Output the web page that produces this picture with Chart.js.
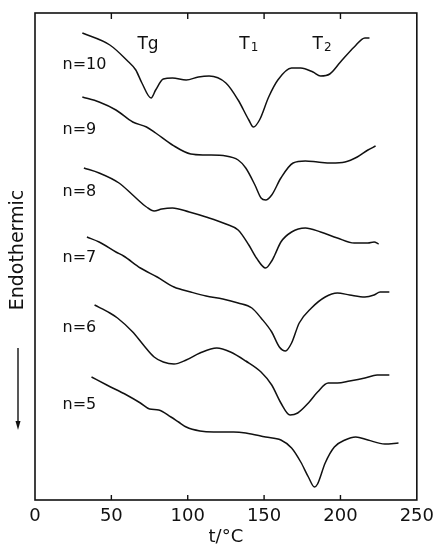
<!DOCTYPE html>
<html>
<head>
<meta charset="utf-8">
<script src="https://cdn.jsdelivr.net/npm/chart.js@4.4.0/dist/chart.umd.min.js"></script>
<style>
  html, body { margin: 0; padding: 0; background: #fff; }
</style>
</head>
<body>
<canvas id="dscChart" width="440" height="546"></canvas>
<script>
// DSC traces: temperature (°C) and heat flow (arbitrary units, offset per sample)
const n10T = [31, 49, 60, 66, 70, 76, 79, 84, 90, 99, 107, 114, 125, 133, 140, 143, 147, 153, 159, 168, 174, 182, 187, 193, 200, 209, 216, 219];
const n10Y = [467, 455, 440, 430, 417, 402, 410, 421, 422, 420, 423, 424, 417, 400, 380, 373, 380, 403, 420, 432, 432, 428, 424, 426, 438, 453, 462, 462];

const n9T = [31, 42, 53, 64, 73, 79, 90, 102, 112, 125, 133, 138, 144, 148, 151, 155, 161, 169, 177, 185, 194, 203, 211, 218, 223];
const n9Y = [403, 398, 390, 378, 373, 367, 355, 346, 345, 344, 340, 332, 315, 302, 300, 305, 322, 337, 339, 338, 337, 338, 343, 350, 354];

const n8T = [32, 42, 55, 64, 73, 78, 83, 90, 101, 112, 125, 133, 140, 145, 151, 155, 157, 161, 168, 177, 187, 198, 209, 218, 222, 225];
const n8Y = [332, 327, 317, 305, 293, 289, 291, 292, 288, 283, 276, 270, 255, 242, 232, 239, 245, 258, 268, 272, 268, 262, 257, 257, 258, 256];

const n7T = [34, 42, 53, 58, 69, 80, 91, 102, 112, 123, 133, 142, 148, 155, 160, 164, 168, 173, 181, 190, 198, 206, 216, 222, 226, 232];
const n7Y = [263, 258, 248, 244, 232, 223, 213, 208, 204, 201, 197, 192, 182, 168, 153, 149, 157, 177, 192, 203, 207, 205, 203, 205, 208, 208];

const n6T = [39, 49, 54, 64, 71, 78, 84, 91, 99, 108, 119, 128, 138, 148, 155, 161, 167, 172, 179, 185, 192, 198, 206, 216, 224, 232];
const n6Y = [195, 187, 182, 168, 155, 143, 138, 136, 140, 147, 152, 148, 139, 128, 115, 97, 85, 87, 97, 108, 117, 117, 119, 122, 125, 125];

const n5T = [37, 47, 60, 69, 75, 81, 89, 94, 99, 108, 117, 130, 138, 151, 161, 168, 174, 179, 183, 185, 190, 196, 203, 210, 218, 229, 238];
const n5Y = [123, 115, 105, 97, 91, 90, 83, 78, 73, 69, 68, 68, 67, 63, 60, 52, 38, 23, 13, 16, 37, 53, 60, 63, 60, 56, 57];

const seriesNames = ['n=10', 'n=9', 'n=8', 'n=7', 'n=6', 'n=5'];
const seriesT = [n10T, n9T, n8T, n7T, n6T, n5T];
const seriesY = [n10Y, n9Y, n8Y, n7Y, n6Y, n5Y];

// where the curve names sit (data units)
const nameT = 18;
const nameY = [435, 370, 308, 242, 172, 95];

// transition markers above the top curve: main letter + subscript
const peakMain = ['Tg', 'T', 'T'];
const peakSub = ['', '1', '2'];
const peakT = [74, 140, 188];
const peakY = 455;

const xMin = 0, xMax = 250, xStep = 50;
const yMin = 0, yMax = 487;

const FONT = '"DejaVu Sans", sans-serif';
const INK = '#111';

const framePlugin = {
  id: 'frame',
  afterDraw(chart) {
    const ctx = chart.ctx;
    const a = chart.chartArea;
    const xs = chart.scales.x, ys = chart.scales.y;
    ctx.save();
    ctx.strokeStyle = INK;
    ctx.lineWidth = 1.6;
    ctx.strokeRect(a.left, a.top, a.right - a.left, a.bottom - a.top);

    // inward ticks top and bottom
    ctx.lineWidth = 1.4;
    xs.ticks.forEach(t => {
      if (t.value <= xMin || t.value >= xMax) return;
      const px = xs.getPixelForValue(t.value);
      ctx.beginPath();
      ctx.moveTo(px, a.bottom);
      ctx.lineTo(px, a.bottom - 5);
      ctx.moveTo(px, a.top);
      ctx.lineTo(px, a.top + 6);
      ctx.stroke();
    });

    // curve names
    ctx.fillStyle = INK;
    ctx.font = '16px ' + FONT;
    ctx.textAlign = 'left';
    ctx.textBaseline = 'middle';
    seriesNames.forEach((name, i) => {
      ctx.fillText(name, xs.getPixelForValue(nameT), ys.getPixelForValue(nameY[i]));
    });

    // peak names, subscripts drawn a little lower and smaller
    peakMain.forEach((main, i) => {
      ctx.font = '17px ' + FONT;
      const wMain = ctx.measureText(main).width;
      ctx.font = '12px ' + FONT;
      const wSub = peakSub[i] ? ctx.measureText(peakSub[i]).width + 1 : 0;
      const left = xs.getPixelForValue(peakT[i]) - (wMain + wSub) / 2;
      const py = ys.getPixelForValue(peakY);
      ctx.textAlign = 'left';
      ctx.font = '17px ' + FONT;
      ctx.fillText(main, left, py);
      if (peakSub[i]) {
        ctx.font = '12px ' + FONT;
        ctx.fillText(peakSub[i], left + wMain + 1, py + 3);
      }
    });

    // rotated y title with downward arrow
    const cx = a.left - 17;
    ctx.save();
    ctx.translate(cx, a.top + 237);
    ctx.rotate(-Math.PI / 2);
    ctx.font = '19px ' + FONT;
    ctx.textAlign = 'center';
    ctx.fillText('Endothermic', 0, 0);
    ctx.restore();

    const y0 = a.top + 335, y1 = a.top + 417;
    ctx.lineWidth = 1.4;
    ctx.beginPath();
    ctx.moveTo(cx, y0);
    ctx.lineTo(cx, y1 - 6);
    ctx.stroke();
    ctx.beginPath();
    ctx.moveTo(cx, y1);
    ctx.lineTo(cx - 2.5, y1 - 9);
    ctx.lineTo(cx + 2.5, y1 - 9);
    ctx.closePath();
    ctx.fill();
    ctx.restore();
  }
};

const ctx = document.getElementById('dscChart').getContext('2d');
new Chart(ctx, {
  type: 'line',
  data: {
    datasets: seriesNames.map((name, i) => ({
      label: name,
      data: seriesT[i].map((t, k) => ({ x: t, y: seriesY[i][k] })),
      borderColor: INK,
      borderWidth: 1.5,
      pointRadius: 0,
      cubicInterpolationMode: 'monotone',
      fill: false
    }))
  },
  options: {
    responsive: false,
    animation: false,
    layout: { padding: { left: 35, right: 21, top: 13, bottom: 0 } },
    plugins: {
      legend: { display: false },
      tooltip: { enabled: false }
    },
    scales: {
      x: {
        type: 'linear',
        min: xMin,
        max: xMax,
        border: { display: false },
        grid: { display: false, drawTicks: false },
        ticks: { stepSize: xStep, padding: 6, color: INK, font: { family: FONT, size: 18 } },
        title: {
          display: true,
          text: 't/°C',
          color: INK,
          padding: 0,
          font: { family: FONT, size: 18, lineHeight: 1 }
        },
        afterFit(scale) { scale.height = 46; }
      },
      y: {
        display: false,
        min: yMin,
        max: yMax
      }
    }
  },
  plugins: [framePlugin]
});
</script>
</body>
</html>
